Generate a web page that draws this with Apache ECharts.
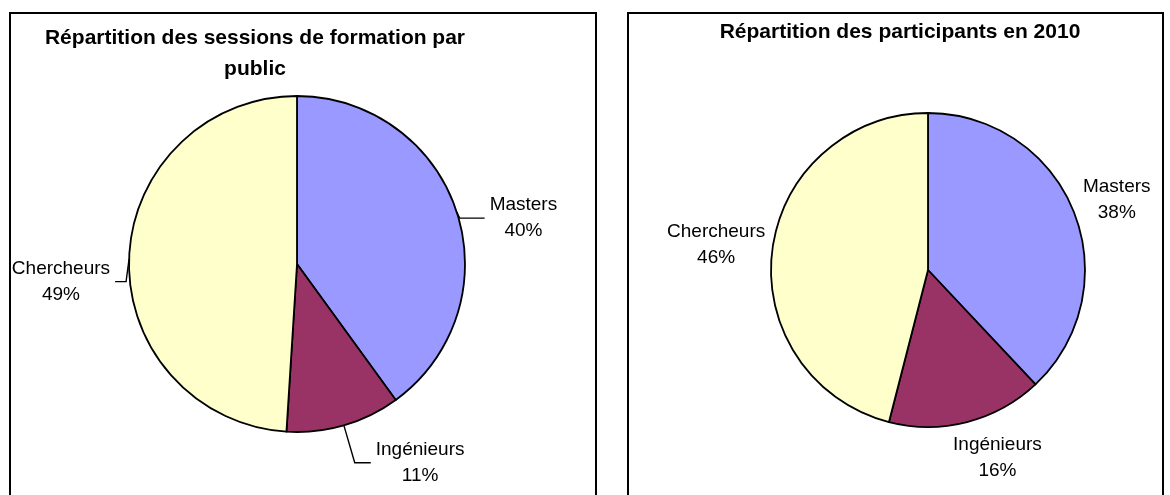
<!DOCTYPE html>
<html>
<head>
<meta charset="utf-8">
<script src="https://cdn.jsdelivr.net/npm/echarts@6/dist/echarts.min.js"></script>
<style>
  html, body { margin: 0; padding: 0; background: #fff; }
  #chart { width: 1170px; height: 495px; }
</style>
</head>
<body>
<div id="chart"></div>
<script>
// data
const categories = ['Masters', 'Ingénieurs', 'Chercheurs'];
const sessionsShare = [40, 11, 49];
const participantsShare = [38, 16, 46];
const titles = ['Répartition des sessions de formation par\npublic', 'Répartition des participants en 2010'];

const palette = ['#9999FF', '#993366', '#FFFFCC'];
const font = 'Liberation Sans, Arial, sans-serif';

// leader line lengths [length, length2] and label nudges [dx, dy] per slice
const leftLines = [[3, 25], [39, 16], [3, 11]];
const leftNudge = [[0, 7], [0, 0], [0, 23]];
const rightLines = [[0, 4], [0, 0], [0, 2]];
const rightNudge = [[0, -12], [-19, 36], [0, -6]];

const label = {
  show: true,
  position: 'outside',
  formatter: '{n|{b}}\n{p|{d}%}',
  color: '#000',
  fontFamily: font,
  rich: {
    n: { align: 'center', fontSize: 19, lineHeight: 26, fontFamily: font, color: '#000' },
    p: { align: 'center', fontSize: 19, lineHeight: 26, fontFamily: font, color: '#000' }
  }
};

const makeData = (values, lines, showLine) => categories.map((name, i) => ({
  name: name,
  value: values[i],
  labelLine: { show: showLine, length: lines[i][0], length2: lines[i][1], lineStyle: { color: '#000', width: 1.4 } }
}));

// shift the label and drag the elbow of its leader line along with it
const nudge = (table) => (p) => {
  const [dx, dy] = table[p.dataIndex];
  const out = { dx: dx, dy: dy };
  const pts = p.labelLinePoints;
  if (pts && pts.length === 3) {
    out.labelLinePoints = [
      pts[0],
      [pts[1][0] + dx, pts[1][1] + dy],
      [pts[2][0] + dx, pts[2][1] + dy]
    ];
  }
  return out;
};

const chart = echarts.init(document.getElementById('chart'), null, { renderer: 'canvas' });

chart.setOption({
  animation: false,
  color: palette,
  title: [
    {
      text: titles[0], left: 255, top: 23, textAlign: 'center', padding: 0,
      textStyle: { fontFamily: font, fontSize: 21, fontWeight: 'bold', color: '#000', lineHeight: 31 }
    },
    {
      text: titles[1], left: 900, top: 17, textAlign: 'center', padding: 0,
      textStyle: { fontFamily: font, fontSize: 21, fontWeight: 'bold', color: '#000', lineHeight: 30 }
    }
  ],
  graphic: [
    { type: 'rect', shape: { x: 10, y: 13, width: 586, height: 520 }, style: { fill: 'none', stroke: '#000', lineWidth: 2 } },
    { type: 'rect', shape: { x: 628, y: 13, width: 535, height: 520 }, style: { fill: 'none', stroke: '#000', lineWidth: 2 } }
  ],
  series: [
    {
      type: 'pie',
      center: [297, 264],
      radius: 168,
      startAngle: 90,
      clockwise: true,
      avoidLabelOverlap: false,
      percentPrecision: 0,
      itemStyle: { borderColor: '#000', borderWidth: 1.8 },
      label: label,
      labelLayout: nudge(leftNudge),
      emphasis: { disabled: true },
      data: makeData(sessionsShare, leftLines, true)
    },
    {
      type: 'pie',
      center: [928, 270],
      radius: 157,
      startAngle: 90,
      clockwise: true,
      avoidLabelOverlap: false,
      percentPrecision: 0,
      itemStyle: { borderColor: '#000', borderWidth: 1.8 },
      label: label,
      labelLayout: nudge(rightNudge),
      emphasis: { disabled: true },
      data: makeData(participantsShare, rightLines, false)
    }
  ]
});
</script>
</body>
</html>
